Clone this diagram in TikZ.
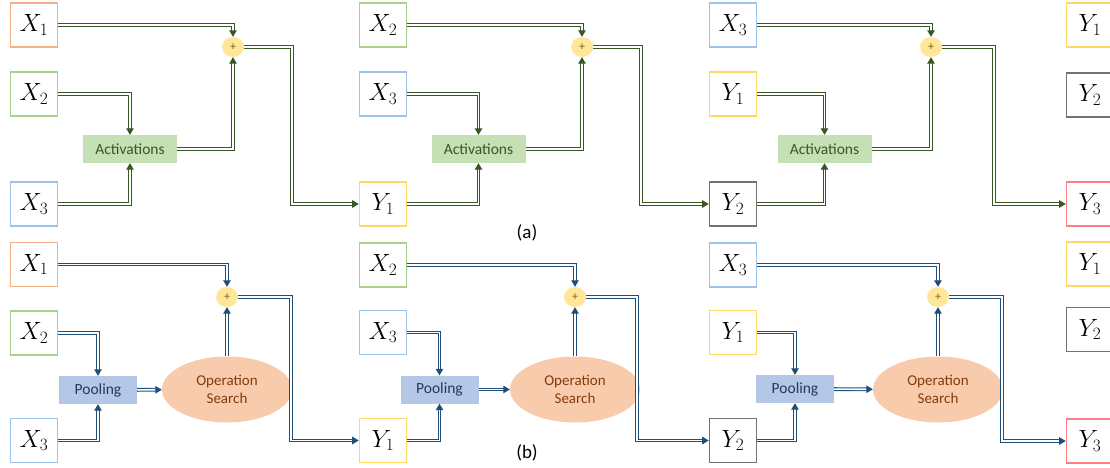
\documentclass[tikz,border=0pt]{standalone}
\usepackage{fontspec}
\setmainfont{Carlito}
\usetikzlibrary{arrows.meta,
                positioning,
                shapes.geometric
                }
\definecolor{cOrange}{HTML}{F4B183}
\definecolor{cGreen}{HTML}{A9D18E}
\definecolor{cBlue}{HTML}{9DC3E6}
\definecolor{cYellow}{HTML}{FFD966}
\definecolor{cGray}{HTML}{767171}
\definecolor{cRed}{HTML}{FF7C80}
\definecolor{actFill}{HTML}{C5E0B4}
\definecolor{actText}{HTML}{385723}
\definecolor{poolFill}{HTML}{B4C7E7}
\definecolor{poolText}{HTML}{203864}
\definecolor{opsFill}{HTML}{F8CBAD}
\definecolor{opsText}{HTML}{843C0C}
\definecolor{plusFill}{HTML}{FFE699}
\definecolor{plusText}{HTML}{7F6000}
\definecolor{lineG}{HTML}{385723}
\definecolor{lineB}{HTML}{1F4E79}

\begin{document}
\begin{tikzpicture}[x=1pt, y=-1pt,
  var/.style  = {draw, line width=1.6pt, fill=white, minimum width=47pt,
                 minimum height=44pt, inner sep=0pt,
                 font=\fontsize{25}{28}\selectfont},
  act/.style  = {fill=actFill, text=actText, minimum width=94pt,
                 minimum height=28pt, font=\fontsize{15.5}{18}\selectfont},
  pool/.style = {fill=poolFill, text=poolText, minimum width=78pt,
                 minimum height=28pt, font=\fontsize{15.5}{18}\selectfont},
  ops/.style  = {ellipse, fill=opsFill, text=opsText, minimum width=130pt,
                 minimum height=66pt, inner sep=0pt, align=center,
                 font=\fontsize{15}{18}\selectfont},
  plus/.style = {ellipse, fill=plusFill, text=plusText, minimum width=22pt,
                 minimum height=20pt, inner sep=0pt,
                 font=\fontsize{12}{12}\selectfont},
  arrG/.style = {draw=lineG, line width=1.1pt, double=white,
                 double distance=1.6pt, line join=miter,
                 -{Triangle[length=6.5pt,width=7.5pt]}},
  arrB/.style = {arrG, draw=lineB},
  sublabel/.style = {font=\fontsize{19}{22}\selectfont}
                    ]
\useasboundingbox (0,0) rectangle (1110,468);
\clip (0,0) rectangle (1110,468);

% (a) first step
\node (ax1) [var, draw=cOrange] at (34,25)  {$X_1$};
\node (ax2) [var, draw=cGreen]  at (34,94)  {$X_2$};
\node (ax3) [var, draw=cBlue]   at (34,204) {$X_3$};
\node (aact1) [act] at (130,149) {Activations};
\node (ap1) [plus] at (233,47) {+};
% (a) second step
\node (bx2) [var, draw=cGreen]  at (383,25)  {$X_2$};
\node (bx3) [var, draw=cBlue]   at (383,94)  {$X_3$};
\node (by1) [var, draw=cYellow] at (383,204) {$Y_1$};
\node (aact2) [act] at (478.5,149) {Activations};
\node (ap2) [plus] at (582,47) {+};
% (a) third step
\node (cx3) [var, draw=cBlue]   at (733,25)  {$X_3$};
\node (cy1) [var, draw=cYellow] at (733,94)  {$Y_1$};
\node (cy2) [var, draw=cGray]   at (733,204) {$Y_2$};
\node (aact3) [act] at (824.5,149) {Activations};
\node (ap3) [plus] at (931,47) {+};
% (a) output
\node (dy1) [var, draw=cYellow] at (1090,25)  {$Y_1$};
\node (dy2) [var, draw=cGray]   at (1090,95)  {$Y_2$};
\node (dy3) [var, draw=cRed]    at (1090,204) {$Y_3$};

\draw[arrG] (ax1) -| (ap1);
\draw[arrG] (ax2) -| (aact1);
\draw[arrG] (ax3) -| (aact1);
\draw[arrG] (aact1) -| (ap1);
\draw[arrG] (ap1) -- ++(59,0) |- (by1);

\draw[arrG] (bx2) -| (ap2);
\draw[arrG] (bx3) -| (aact2);
\draw[arrG] (by1) -| (aact2);
\draw[arrG] (aact2) -| (ap2);
\draw[arrG] (ap2) -- ++(59,0) |- (cy2);

\draw[arrG] (cx3) -| (ap3);
\draw[arrG] (cy1) -| (aact3);
\draw[arrG] (cy2) -| (aact3);
\draw[arrG] (aact3) -| (ap3);
\draw[arrG] (ap3) -- ++(63,0) |- (dy3);

\node (capa) [sublabel] at (527,233) {(a)};

% (b) first step
\node (ex1) [var, draw=cOrange] at (34,264.5) {$X_1$};
\node (ex2) [var, draw=cGreen]  at (34,333)   {$X_2$};
\node (ex3) [var, draw=cBlue]   at (34,440.5) {$X_3$};
\node (pool1) [pool] at (98,390) {Pooling};
\node (ops1)  [ops]  at (227,389.5) {Operation\\Search};
\node (bp1)   [plus] at (227,297) {+};
% (b) second step
\node (fx2) [var, draw=cGreen]  at (383,265)   {$X_2$};
\node (fx3) [var, draw=cBlue]   at (383,332.5) {$X_3$};
\node (fy1) [var, draw=cYellow] at (383,440.5) {$Y_1$};
\node (pool2) [pool] at (439.5,389.5) {Pooling};
\node (ops2)  [ops]  at (575,389.5) {Operation\\Search};
\node (bp2)   [plus] at (575,297) {+};
% (b) third step
\node (gx3) [var, draw=cBlue]   at (733,265)   {$X_3$};
\node (gy1) [var, draw=cYellow] at (733,332.5) {$Y_1$};
\node (gy2) [var, draw=cGray]   at (733,440.5) {$Y_2$};
\node (pool3) [pool] at (795,389) {Pooling};
\node (ops3)  [ops]  at (938,389.5) {Operation\\Search};
\node (bp3)   [plus] at (938,297) {+};
% (b) output
\node (hy1) [var, draw=cYellow] at (1090,264)   {$Y_1$};
\node (hy2) [var, draw=cGray]   at (1090,329.5) {$Y_2$};
\node (hy3) [var, draw=cRed]    at (1090,441)   {$Y_3$};

\draw[arrB] (ex1) -| (bp1);
\draw[arrB] (ex2) -| (pool1);
\draw[arrB] (ex3) -| (pool1);
\draw[arrB] (pool1) -- (ops1);
\draw[arrB] (ops1) -- (bp1);
\draw[arrB] (bp1) -- ++(64,0) |- (fy1);

\draw[arrB] (fx2) -| (bp2);
\draw[arrB] (fx3) -| (pool2);
\draw[arrB] (fy1) -| (pool2);
\draw[arrB] (pool2) -- (ops2);
\draw[arrB] (ops2) -- (bp2);
\draw[arrB] (bp2) -- ++(62,0) |- (gy2);

\draw[arrB] (gx3) -| (bp3);
\draw[arrB] (gy1) -| (pool3);
\draw[arrB] (gy2) -| (pool3);
\draw[arrB] (pool3) -- (ops3);
\draw[arrB] (ops3) -- (bp3);
\draw[arrB] (bp3) -- ++(64,0) |- (hy3);

\node (capb) [sublabel] at (527,453) {(b)};
\end{tikzpicture}
\end{document}
